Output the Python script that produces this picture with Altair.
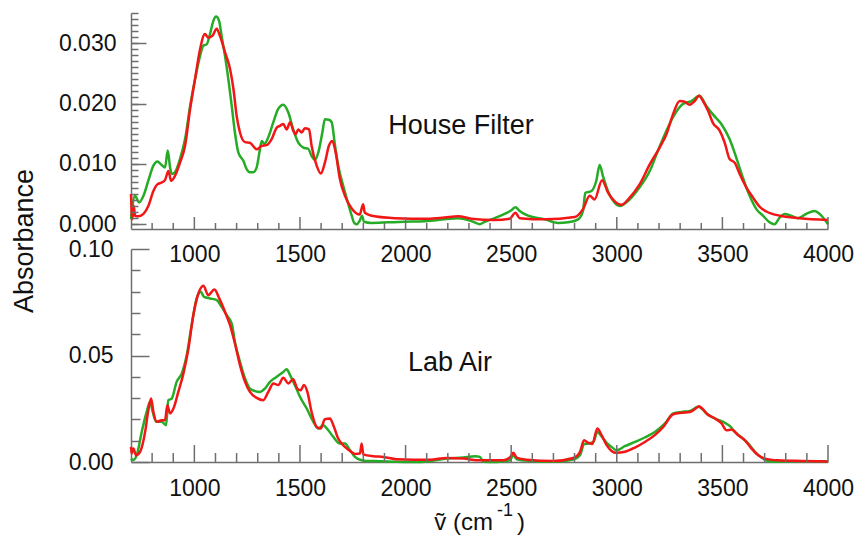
import altair as alt
import pandas as pd

# ---------------- data (absorbance vs wavenumber, cm^-1) ----------------
# House Filter panel
hf_green_wn = [700, 719, 738, 759, 782, 806, 825, 845, 861, 874, 885, 893, 908, 932, 956, 980,
               1003, 1027, 1043, 1058, 1074, 1090, 1103, 1117, 1129, 1145, 1161, 1177, 1192, 1208,
               1232, 1248, 1263, 1279, 1295, 1308, 1319, 1331, 1350, 1374, 1397, 1421, 1445, 1468,
               1492, 1516, 1539, 1555, 1571, 1587, 1606, 1618, 1637, 1650, 1666, 1681, 1705, 1725,
               1745, 1757, 1770, 1783, 1794, 1803, 1838, 1917, 1996, 2091, 2185, 2249, 2312, 2351,
               2375, 2422, 2469, 2501, 2520, 2540, 2580, 2659, 2722, 2769, 2817, 2840, 2851, 2880,
               2903, 2919, 2935, 2958, 2982, 3014, 3061, 3108, 3156, 3195, 3235, 3274, 3313, 3353,
               3392, 3424, 3455, 3495, 3534, 3566, 3597, 3629, 3661, 3692, 3724, 3747, 3771, 3795,
               3826, 3858, 3897, 3937, 3960, 4000]
hf_green_abs = [0.0008, 0.0047, 0.0036, 0.0047, 0.0072, 0.0097, 0.0104, 0.0098, 0.0094, 0.0122,
                0.0094, 0.0083, 0.0086, 0.0108, 0.0141, 0.0196, 0.0240, 0.0279, 0.0296, 0.0298,
                0.0315, 0.0337, 0.0344, 0.0337, 0.0312, 0.0279, 0.0240, 0.0196, 0.0152, 0.0119,
                0.0105, 0.0091, 0.0086, 0.0086, 0.0094, 0.0119, 0.0138, 0.0133, 0.0144, 0.0169,
                0.0191, 0.0198, 0.0185, 0.0157, 0.0135, 0.0127, 0.0125, 0.0113, 0.0107, 0.0119,
                0.0152, 0.0174, 0.0173, 0.0169, 0.0130, 0.0097, 0.0063, 0.0038, 0.0014, 0.0002,
                0.0000, 0.0006, 0.0014, 0.0004, 0.0002, 0.0003, 0.0004, 0.0005, 0.0008, 0.0010,
                0.0005, 0.0000, 0.0004, 0.0010, 0.0017, 0.0023, 0.0028, 0.0022, 0.0014, 0.0008,
                0.0002, 0.0003, 0.0008, 0.0022, 0.0052, 0.0055, 0.0072, 0.0098, 0.0079, 0.0055,
                0.0039, 0.0030, 0.0041, 0.0061, 0.0088, 0.0122, 0.0155, 0.0182, 0.0199, 0.0204,
                0.0213, 0.0196, 0.0182, 0.0166, 0.0141, 0.0110, 0.0077, 0.0047, 0.0025, 0.0014,
                0.0003, 0.0000, 0.0011, 0.0017, 0.0014, 0.0010, 0.0017, 0.0022, 0.0017, 0.0000]

hf_red_wn = [700, 706, 713, 719, 735, 759, 782, 806, 825, 845, 861, 877, 890, 908, 932, 956, 980,
             1003, 1027, 1050, 1066, 1085, 1106, 1121, 1145, 1169, 1185, 1200, 1216, 1240, 1263,
             1295, 1319, 1342, 1366, 1390, 1405, 1421, 1437, 1453, 1468, 1479, 1492, 1508, 1523,
             1543, 1555, 1579, 1599, 1618, 1637, 1653, 1669, 1689, 1713, 1745, 1783, 1799, 1807,
             1854, 1949, 2107, 2185, 2249, 2312, 2422, 2493, 2520, 2540, 2659, 2801, 2840, 2872,
             2895, 2930, 2959, 2987, 3022, 3061, 3108, 3156, 3203, 3235, 3266, 3298, 3321, 3345,
             3369, 3389, 3408, 3432, 3455, 3487, 3511, 3534, 3558, 3582, 3613, 3645, 3676, 3708,
             3771, 3866, 4000]
hf_red_abs = [0.0050, 0.0008, 0.0030, 0.0014, 0.0013, 0.0017, 0.0030, 0.0055, 0.0066, 0.0069,
              0.0073, 0.0088, 0.0072, 0.0080, 0.0102, 0.0130, 0.0191, 0.0240, 0.0290, 0.0315,
              0.0309, 0.0312, 0.0324, 0.0312, 0.0285, 0.0257, 0.0224, 0.0180, 0.0152, 0.0136,
              0.0135, 0.0124, 0.0130, 0.0131, 0.0141, 0.0160, 0.0163, 0.0166, 0.0157, 0.0169,
              0.0155, 0.0149, 0.0157, 0.0152, 0.0159, 0.0157, 0.0130, 0.0097, 0.0084, 0.0102,
              0.0130, 0.0138, 0.0119, 0.0075, 0.0047, 0.0026, 0.0016, 0.0033, 0.0019, 0.0013,
              0.0010, 0.0009, 0.0011, 0.0013, 0.0009, 0.0007, 0.0009, 0.0019, 0.0010, 0.0008,
              0.0012, 0.0025, 0.0047, 0.0041, 0.0073, 0.0052, 0.0039, 0.0032, 0.0044, 0.0066,
              0.0099, 0.0127, 0.0149, 0.0182, 0.0204, 0.0203, 0.0198, 0.0204, 0.0213, 0.0204,
              0.0188, 0.0168, 0.0155, 0.0135, 0.0108, 0.0102, 0.0083, 0.0061, 0.0044, 0.0029,
              0.0021, 0.0014, 0.0010, 0.0007]

# Lab Air panel
la_green_wn = [700, 711, 727, 751, 774, 790, 803, 819, 845, 866, 877, 893, 916, 940, 964, 987,
               1011, 1030, 1046, 1074, 1106, 1129, 1153, 1177, 1192, 1216, 1240, 1263, 1287, 1311,
               1334, 1358, 1390, 1421, 1437, 1453, 1476, 1500, 1532, 1563, 1587, 1610, 1634, 1658,
               1689, 1713, 1737, 1760, 1792, 1816, 1879, 1958, 2037, 2116, 2194, 2273, 2329, 2352,
               2368, 2431, 2494, 2510, 2526, 2589, 2699, 2794, 2826, 2845, 2865, 2889, 2908, 2928,
               2952, 2975, 2999, 3038, 3086, 3133, 3180, 3228, 3267, 3307, 3346, 3386, 3401, 3425,
               3465, 3504, 3536, 3559, 3591, 3622, 3654, 3685, 3717, 3749, 3843, 4000]
la_green_abs = [0.0016, 0.0009, 0.0032, 0.0142, 0.0235, 0.0282, 0.0235, 0.0189, 0.0189, 0.0173,
                0.0290, 0.0298, 0.0376, 0.0415, 0.0502, 0.0642, 0.0768, 0.0799, 0.0775, 0.0768,
                0.0760, 0.0728, 0.0689, 0.0650, 0.0564, 0.0470, 0.0392, 0.0345, 0.0333, 0.0329,
                0.0345, 0.0376, 0.0400, 0.0423, 0.0436, 0.0408, 0.0361, 0.0306, 0.0251, 0.0189,
                0.0157, 0.0173, 0.0149, 0.0118, 0.0087, 0.0087, 0.0055, 0.0024, 0.0008, 0.0005,
                0.0004, 0.0001, 0.0000, 0.0004, 0.0016, 0.0021, 0.0027, 0.0024, 0.0001, 0.0000,
                0.0008, 0.0032, 0.0013, 0.0005, 0.0001, 0.0012, 0.0032, 0.0084, 0.0087, 0.0094,
                0.0141, 0.0120, 0.0090, 0.0071, 0.0055, 0.0074, 0.0094, 0.0115, 0.0141, 0.0181,
                0.0228, 0.0235, 0.0240, 0.0259, 0.0251, 0.0228, 0.0204, 0.0188, 0.0168, 0.0141,
                0.0115, 0.0087, 0.0048, 0.0021, 0.0005, 0.0001, 0.0004, 0.0004]

la_red_wn = [700, 703, 711, 724, 743, 767, 782, 795, 806, 822, 845, 861, 872, 885, 901, 924, 948,
             972, 995, 1019, 1043, 1066, 1095, 1118, 1145, 1169, 1192, 1216, 1240, 1263, 1295,
             1326, 1350, 1374, 1397, 1421, 1445, 1468, 1487, 1503, 1519, 1535, 1555, 1579, 1598,
             1618, 1642, 1658, 1681, 1713, 1740, 1760, 1784, 1792, 1800, 1847, 1895, 1958, 2037,
             2116, 2194, 2273, 2352, 2463, 2494, 2510, 2526, 2573, 2699, 2794, 2826, 2845, 2865,
             2884, 2908, 2928, 2952, 2975, 2999, 3038, 3086, 3133, 3180, 3220, 3267, 3307, 3346,
             3373, 3389, 3404, 3430, 3465, 3496, 3520, 3543, 3575, 3607, 3638, 3670, 3701, 3764,
             3875, 4000]
la_red_abs = [0.0071, 0.0040, 0.0063, 0.0032, 0.0048, 0.0142, 0.0243, 0.0298, 0.0235, 0.0189,
              0.0196, 0.0196, 0.0267, 0.0228, 0.0251, 0.0329, 0.0415, 0.0533, 0.0689, 0.0791,
              0.0827, 0.0783, 0.0810, 0.0768, 0.0705, 0.0642, 0.0556, 0.0455, 0.0376, 0.0329,
              0.0301, 0.0290, 0.0329, 0.0369, 0.0361, 0.0395, 0.0369, 0.0389, 0.0345, 0.0337,
              0.0361, 0.0329, 0.0235, 0.0165, 0.0157, 0.0201, 0.0204, 0.0173, 0.0110, 0.0071,
              0.0050, 0.0038, 0.0040, 0.0087, 0.0036, 0.0027, 0.0024, 0.0013, 0.0011, 0.0011,
              0.0019, 0.0016, 0.0008, 0.0008, 0.0021, 0.0043, 0.0021, 0.0011, 0.0005, 0.0019,
              0.0048, 0.0102, 0.0090, 0.0084, 0.0157, 0.0126, 0.0079, 0.0052, 0.0043, 0.0048,
              0.0068, 0.0094, 0.0126, 0.0165, 0.0224, 0.0231, 0.0235, 0.0251, 0.0262, 0.0251,
              0.0223, 0.0204, 0.0181, 0.0149, 0.0152, 0.0126, 0.0102, 0.0063, 0.0032, 0.0016,
              0.0008, 0.0005, 0.0002]

# axis tick values / labels
x_major = [1000, 1500, 2000, 2500, 3000, 3500, 4000]
x_minor = [800, 900, 1100, 1200, 1300, 1400, 1600, 1700, 1800, 1900, 2100, 2200, 2300, 2400,
           2600, 2700, 2800, 2900, 3100, 3200, 3300, 3400, 3600, 3700, 3800, 3900]
hf_y_major = [0.0, 0.01, 0.02, 0.03]
hf_y_minor = [k / 1000 for k in range(0, 36)]
la_y_major = [0.0, 0.05, 0.10]
la_y_minor = [0.01, 0.02, 0.03, 0.04, 0.06, 0.07, 0.08, 0.09]

GREEN = "#26ab26"
RED = "#f21616"
GRAY = "#6e6e6e"
FONT = "Liberation Sans"


def frame(wn, ab):
    return pd.DataFrame({"wn": wn, "abs": ab})


def panel(gdf, rdf, ydom, ymaj, ymin, yfmt, yml, ymn, xml, xmn, ypad, xpad, h, label, lx, ly, extra=None):
    xs = alt.Scale(domain=[700, 4000], nice=False, zero=False)
    ys = alt.Scale(domain=ydom, nice=False, zero=False)

    main = alt.Chart(gdf).mark_line(color=GREEN, strokeWidth=2.5, interpolate="monotone").encode(
        x=alt.X("wn:Q", scale=xs, axis=alt.Axis(
            orient="bottom", values=x_major, format="d", ticks=False, tickSize=0,
            labelPadding=xpad, labelFontSize=23, labelColor="#111111", labelFont=FONT,
            labelFlush=False, labelOverlap=False, domain=True, domainColor=GRAY,
            domainWidth=1.5, grid=False, title=None)),
        y=alt.Y("abs:Q", scale=ys, axis=alt.Axis(
            orient="left", values=ymaj, format=yfmt, ticks=False, tickSize=0,
            labelPadding=ypad, labelFontSize=23, labelColor="#111111", labelFont=FONT,
            labelFlush=False, labelOverlap=False, domain=True, domainColor=GRAY,
            domainWidth=1.5, grid=False, title=None)),
    )
    red = alt.Chart(rdf).mark_line(color=RED, strokeWidth=2.5, interpolate="monotone").encode(
        x=alt.X("wn:Q", scale=xs, axis=None),
        y=alt.Y("abs:Q", scale=ys, axis=None),
    )

    def yticks(yv, yl):
        return alt.Chart(rdf).mark_line(strokeOpacity=0).encode(
            x=alt.X("wn:Q", scale=xs, axis=None),
            y=alt.Y("abs:Q", scale=ys, axis=alt.Axis(
                orient="left", values=yv, ticks=True, tickSize=yl, offset=-yl,
                tickColor=GRAY, tickWidth=1.5, labels=False, domain=False,
                grid=False, title=None, zindex=1)),
        )

    span = ydom[1] - ydom[0]

    def xticks(xv, xl):
        # inward (upward) tick marks standing on the bottom axis line
        tdf = pd.DataFrame({"tick": xv,
                            "y0": [ydom[0]] * len(xv),
                            "y1": [ydom[0] + span * xl / h] * len(xv)})
        return alt.Chart(tdf).mark_rule(color=GRAY, strokeWidth=1.5).encode(
            x=alt.X("tick:Q", scale=xs, axis=None),
            y=alt.Y("y0:Q", scale=ys, axis=None),
            y2="y1:Q",
        )

    txt = alt.Chart(pd.DataFrame({"t": [label]})).mark_text(
        font=FONT, fontSize=27, color="#111111", align="center", baseline="middle"
    ).encode(x=alt.value(lx), y=alt.value(ly), text="t:N")

    layers = [main, red, yticks(ymin, ymn), yticks(ymaj, yml),
              xticks(x_minor, xmn), xticks(x_major, xml), txt]
    if extra:
        layers += extra
    return alt.layer(*layers).resolve_axis(x="independent", y="independent").properties(
        width=697, height=h)


ytitle = alt.Chart(pd.DataFrame({"t": ["Absorbance"]})).mark_text(
    font=FONT, fontSize=27, color="#111111", align="center", baseline="middle", angle=270
).encode(x=alt.value(-106), y=alt.value(228), text="t:N")

xt1 = alt.Chart(pd.DataFrame({"t": ["ṽ (cm"]})).mark_text(
    font=FONT, fontSize=24, color="#111111", align="right", baseline="alphabetic"
).encode(x=alt.value(362), y=alt.value(281), text="t:N")
xt2 = alt.Chart(pd.DataFrame({"t": ["-1"]})).mark_text(
    font=FONT, fontSize=18, color="#111111", align="left", baseline="alphabetic"
).encode(x=alt.value(366), y=alt.value(267), text="t:N")
xt3 = alt.Chart(pd.DataFrame({"t": [")"]})).mark_text(
    font=FONT, fontSize=24, color="#111111", align="left", baseline="alphabetic"
).encode(x=alt.value(386), y=alt.value(281), text="t:N")

top = panel(frame(hf_green_wn, hf_green_abs), frame(hf_red_wn, hf_red_abs),
            [-0.0008, 0.035], hf_y_major, hf_y_minor, ".3f", 15, 7, 12, 6, 15, 14, 216,
            "House Filter", 330, 113, extra=[ytitle])
bottom = panel(frame(la_green_wn, la_green_abs), frame(la_red_wn, la_red_abs),
               [0.0, 0.10], la_y_major, la_y_minor, ".2f", 18, 9, 17, 9, 18, 15, 213,
               "Lab Air", 319, 114, extra=[xt1, xt2, xt3])

chart = alt.vconcat(top, bottom, spacing=20, bounds="flush").properties(
    autosize=alt.AutoSizeParams(type="none"),
    padding={"left": 131, "top": 13, "right": 33, "bottom": 522},
    background="white",
).configure(font=FONT).configure_view(stroke=None)

chart.save("out.html", embed_options={"renderer": "svg", "actions": False})
